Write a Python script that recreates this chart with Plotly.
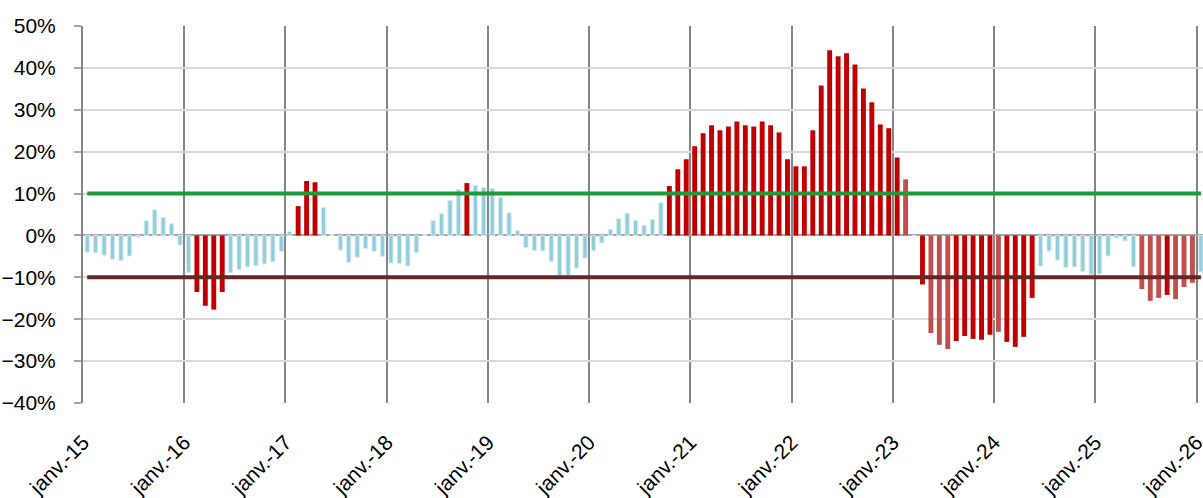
import plotly.graph_objects as go

# ---- data (values in %) ----
year_labels = ["janv.-15", "janv.-16", "janv.-17", "janv.-18", "janv.-19", "janv.-20",
               "janv.-21", "janv.-22", "janv.-23", "janv.-24", "janv.-25", "janv.-26"]

v2015 = [-4.0, -4.1, -4.7, -5.7, -6.0, -4.9, -0.4, 3.5, 6.1, 4.3, 2.8, -2.3]
v2016 = [-8.8, -13.5, -16.8, -17.7, -13.5, -8.9, -8.2, -7.5, -7.2, -6.8, -6.3, -3.8]
v2017 = [0.9, 7.0, 13.0, 12.7, 6.7, 0.2, -3.5, -6.4, -5.2, -3.1, -3.8, -5.0]
v2018 = [-6.6, -6.7, -7.3, -4.1, 0.2, 3.5, 5.2, 8.3, 11.0, 12.5, 12.0, 11.5]
v2019 = [11.2, 9.1, 5.4, 1.1, -2.9, -3.6, -3.7, -6.2, -9.6, -9.6, -7.8, -5.4]
v2020 = [-3.6, -1.8, 1.4, 4.0, 5.3, 3.6, 2.4, 3.8, 7.8, 11.8, 15.8, 18.2]
v2021 = [21.3, 24.4, 26.3, 25.1, 26.0, 27.2, 26.3, 26.0, 27.2, 26.3, 24.6, 18.2]
v2022 = [16.5, 16.5, 25.1, 35.8, 44.2, 42.8, 43.5, 40.8, 35.1, 31.8, 26.5, 25.6]
v2023 = [18.6, 13.4, 0.0, -11.7, -23.3, -26.1, -27.1, -25.2, -24.0, -24.7, -24.9, -23.7]
v2024 = [-23.0, -25.4, -26.6, -24.2, -14.9, -7.3, -3.7, -5.9, -7.7, -7.5, -8.6, -9.4]
v2025 = [-9.2, -4.9, -0.6, -1.3, -7.5, -12.8, -15.6, -14.9, -14.2, -15.2, -12.3, -11.3]
v2026 = [-8.7]

# bar kind: b = light blue, r = dark red, p = pale red
k2015 = list("bbbbbbbbbbbb")
k2016 = list("brrrrbbbbbbb")
k2017 = list("brrrbbbbbbbb")
k2018 = list("bbbbbbbbbrbb")
k2019 = list("bbbbbbbbbbbb")
k2020 = list("bbbbbbbbbrrr")
k2021 = list("rrrrrrrrrrrr")
k2022 = list("rrrrrrrrrrrr")
k2023 = list("rpbrppprrrrr")
k2024 = list("prrrrbbbbbbb")
k2025 = list("bbbbbppprppp")
k2026 = list("b")

upper_threshold = 10
lower_threshold = -10

values = v2015 + v2016 + v2017 + v2018 + v2019 + v2020 + v2021 + v2022 + v2023 + v2024 + v2025 + v2026
kinds = k2015 + k2016 + k2017 + k2018 + k2019 + k2020 + k2021 + k2022 + k2023 + k2024 + k2025 + k2026

# ---- styling ----
fill = {"b": "#92cddc", "r": "#c00000", "p": "#c0504d"}
edge = {"b": "#d3ebf1", "r": "#c00000", "p": "#c0504d"}
edge_w = {"b": 1, "r": 0, "p": 0}
bar_w = {"b": 0.5, "r": 0.58, "p": 0.58}

x = [i + 0.5 for i in range(len(values))]
font = "Liberation Sans, Arial, sans-serif"

fig = go.Figure()
fig.add_bar(
    x=x, y=values,
    width=[bar_w[k] for k in kinds],
    marker=dict(color=[fill[k] for k in kinds],
                line=dict(color=[edge[k] for k in kinds], width=[edge_w[k] for k in kinds])),
    showlegend=False, hoverinfo="skip",
)
fig.add_scatter(x=x, y=[upper_threshold] * len(x), mode="lines",
                line=dict(color="#21993a", width=4), showlegend=False, hoverinfo="skip")
fig.add_scatter(x=x, y=[lower_threshold] * len(x), mode="lines",
                line=dict(color="#662624", width=4), showlegend=False, hoverinfo="skip")

fig.update_layout(
    width=1203, height=498,
    margin=dict(l=83, r=0, t=26, b=95, autoexpand=False),
    paper_bgcolor="white", plot_bgcolor="white",
    bargap=0,
    font=dict(family=font, size=21, color="#000000"),
    xaxis=dict(
        range=[0, 132.75],
        tickmode="array",
        tickvals=[12 * k for k in range(len(year_labels))],
        ticktext=year_labels,
        tickangle=-45,
        automargin=False,
        ticklabeloverflow="allow",
        showgrid=True, gridcolor="#868686", gridwidth=2,
        zeroline=False, showline=False, ticks="",
        ticklabelstandoff=22,
        tickfont=dict(family=font, size=21, color="#000000"),
    ),
    yaxis=dict(
        range=[-40, 50], dtick=10, tick0=0,
        ticksuffix="%",
        automargin=False,
        showgrid=True, gridcolor="#d9d9d9", gridwidth=2,
        zeroline=True, zerolinecolor="#a6a6a6", zerolinewidth=2,
        ticks="outside", ticklen=7, tickwidth=2, tickcolor="#a6a6a6",
        ticklabelstandoff=14,
        showline=True, linecolor="#868686", linewidth=2,
        tickfont=dict(family=font, size=21, color="#000000"),
    ),
)

fig.write_html(
    "out.html",
    config={"displayModeBar": False, "staticPlot": True},
    post_script="document.body.style.margin='0';document.body.style.overflow='hidden';",
)
